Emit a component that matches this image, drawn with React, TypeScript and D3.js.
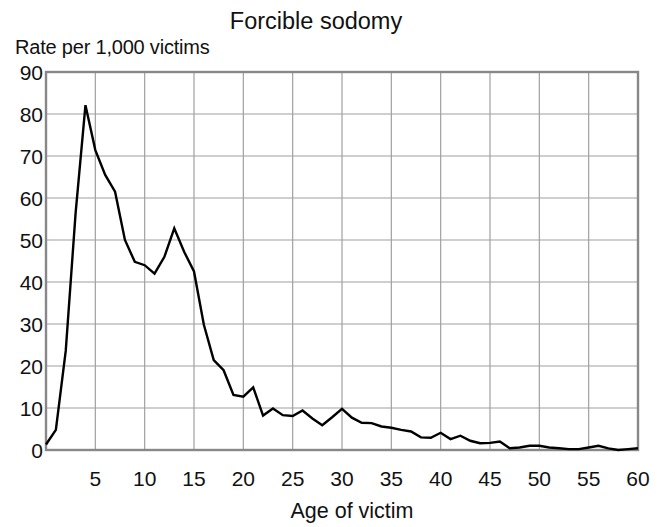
import React, { useEffect, useRef } from "react";
import * as d3 from "d3";

const ages = [
  0, 1, 2, 3, 4, 5, 6, 7, 8, 9, 10, 11, 12, 13, 14, 15, 16, 17, 18, 19, 20,
  21, 22, 23, 24, 25, 26, 27, 28, 29, 30, 31, 32, 33, 34, 35, 36, 37, 38, 39, 40,
  41, 42, 43, 44, 45, 46, 47, 48, 49, 50, 51, 52, 53, 54, 55, 56, 57, 58, 59, 60,
];
const rates = [
  1.3, 4.8, 23.6, 56.4, 82.1, 71.4, 65.5, 61.5, 50, 44.8, 44, 42, 46, 52.8, 47.2, 42.5, 29.8, 21.4, 19, 13.1, 12.7,
  14.9, 8.2, 9.9, 8.3, 8.1, 9.4, 7.5, 5.9, 7.8, 9.8, 7.7, 6.5, 6.4, 5.6, 5.3, 4.8, 4.4, 3.0, 2.9, 4.1,
  2.6, 3.4, 2.2, 1.6, 1.7, 2.0, 0.4, 0.6, 1.0, 1.0, 0.6, 0.4, 0.2, 0.2, 0.6, 1.0, 0.4, 0.0, 0.2, 0.4,
];
const xTicks = [5, 10, 15, 20, 25, 30, 35, 40, 45, 50, 55, 60];
const yTicks = [0, 10, 20, 30, 40, 50, 60, 70, 80, 90];

const App = () => {
  const ref = useRef<SVGSVGElement>(null);

  useEffect(() => {
    const svg = d3.select(ref.current);
    svg.selectAll("*").remove();

    const width = 667;
    const height = 527;
    const margin = { top: 72, right: 29, bottom: 77, left: 46 };
    const font = "'Liberation Sans', Arial, sans-serif";

    const x = d3.scaleLinear().domain([0, 60]).range([margin.left, width - margin.right]);
    const y = d3.scaleLinear().domain([0, 90]).range([height - margin.bottom, margin.top]);

    svg.attr("width", width).attr("height", height).style("font-family", font);
    svg.append("rect").attr("width", width).attr("height", height).attr("fill", "#fff");

    // grid
    svg
      .append("g")
      .selectAll("line")
      .data(xTicks.slice(0, -1))
      .join("line")
      .attr("x1", (d) => x(d))
      .attr("x2", (d) => x(d))
      .attr("y1", y(0))
      .attr("y2", y(90))
      .attr("stroke", "#a0a0a0")
      .attr("stroke-width", 1.2);

    svg
      .append("g")
      .selectAll("line")
      .data(yTicks.slice(1, -1))
      .join("line")
      .attr("x1", x(0))
      .attr("x2", x(60))
      .attr("y1", (d) => y(d))
      .attr("y2", (d) => y(d))
      .attr("stroke", "#a0a0a0")
      .attr("stroke-width", 1.2);

    svg
      .append("rect")
      .attr("x", x(0))
      .attr("y", y(90))
      .attr("width", x(60) - x(0))
      .attr("height", y(0) - y(90))
      .attr("fill", "none")
      .attr("stroke", "#888")
      .attr("stroke-width", 2.4);

    // line
    const line = d3
      .line<number>()
      .x((d, i) => x(ages[i]))
      .y((d) => y(d));
    svg
      .append("path")
      .datum(rates)
      .attr("d", line)
      .attr("fill", "none")
      .attr("stroke", "#000")
      .attr("stroke-width", 2.4)
      .attr("stroke-linejoin", "miter");

    // tick labels
    svg
      .append("g")
      .selectAll("text")
      .data(yTicks)
      .join("text")
      .attr("x", x(0) - 3)
      .attr("y", (d) => y(d) + 8)
      .attr("text-anchor", "end")
      .style("font-size", "21px")
      .attr("fill", "#111")
      .text((d) => d);

    svg
      .append("g")
      .selectAll("text")
      .data(xTicks)
      .join("text")
      .attr("x", (d) => x(d))
      .attr("y", 486)
      .attr("text-anchor", "middle")
      .style("font-size", "21px")
      .attr("fill", "#111")
      .text((d) => d);

    svg
      .append("text")
      .attr("x", 352)
      .attr("y", 518)
      .attr("text-anchor", "middle")
      .style("font-size", "21.5px")
      .attr("fill", "#111")
      .text("Age of victim");

    svg
      .append("text")
      .attr("x", 15)
      .attr("y", 53.5)
      .style("font-size", "20px")
      .style("letter-spacing", "-0.2px")
      .attr("fill", "#111")
      .text("Rate per 1,000 victims");

    svg
      .append("text")
      .attr("x", 316)
      .attr("y", 29)
      .attr("text-anchor", "middle")
      .style("font-size", "23.5px")
      .attr("fill", "#111")
      .text("Forcible sodomy");
  }, []);

  return <svg ref={ref} style={{ position: "absolute", left: 0, top: 0 }} />;
};

export default App;
